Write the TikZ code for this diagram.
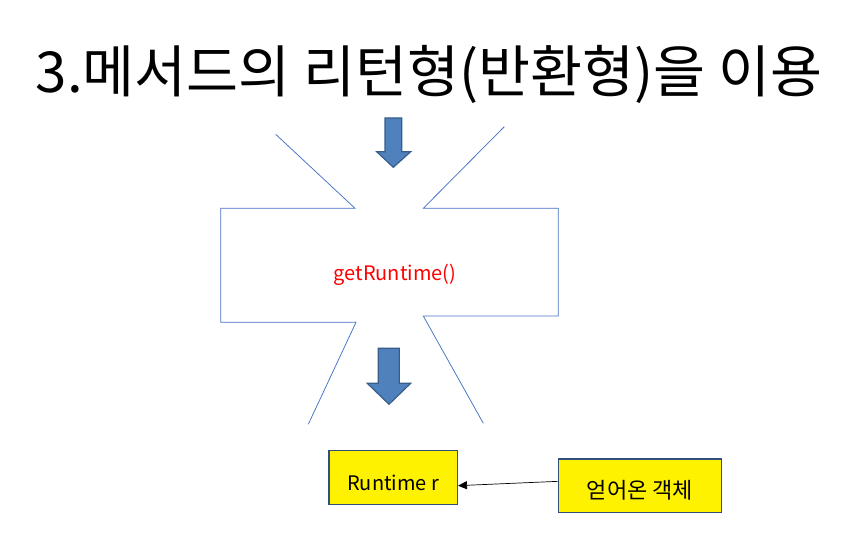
\documentclass[tikz,border=0pt]{standalone}
\usepackage{fontspec}
\setmainfont{Noto Sans CJK KR}
\usetikzlibrary{arrows.meta,calc}
\definecolor{lineblue}{HTML}{4472C4}
\definecolor{arrfill}{HTML}{4F81BD}
\definecolor{arrdraw}{HTML}{385D8A}
\definecolor{boxdraw}{HTML}{2F4F7F}
\tikzset{
  burst/.style={draw=lineblue, line width=0.75pt},
  bigarrow/.style={fill=arrfill, draw=arrdraw, line width=1.2pt, line join=miter},
  yellowbox/.style={draw=boxdraw, fill=yellow, line width=1.3pt, inner sep=0pt, anchor=north west},
}
\begin{document}
\begin{tikzpicture}[x=1pt,y=-1pt]
\useasboundingbox (0,0) rectangle (847,551);
% title
\node[font=\fontsize{56.5}{64}\selectfont, anchor=center] (title) at (429,74) {3.메서드의 리턴형(반환형)을 이용};
% top arrow
\draw[bigarrow] (385,118) -- (401.7,118) -- (401.7,151.7) -- (410.7,151.7) -- (393.3,167.3) -- (376.7,151.7) -- (385,151.7) -- cycle;
% burst shape
\coordinate (tl1) at (275.7,134.3);
\coordinate (tl2) at (355,208.3);
\coordinate (tr1) at (504.3,126.7);
\coordinate (tr2) at (423.3,208.3);
\coordinate (bl1) at (356,322.3);
\coordinate (bl2) at (308.3,424.3);
\coordinate (br1) at (423.3,316);
\coordinate (br2) at (483.3,423.3);
\draw[burst] (tl1) -- (tl2) -- (220.7,208.3) -- (220.7,322.3) -- (bl1) -- (bl2);
\draw[burst] (tr1) -- (tr2) -- (558.3,208.3) -- (558.3,316) -- (br1) -- (br2);
\node[text=red, font=\fontsize{20}{24}\selectfont] (fn) at (395,275) {getRuntime()};
% bottom arrow
\draw[bigarrow] (378.3,348.3) -- (399.3,348.3) -- (399.3,383.3) -- (410.7,383.3) -- (389,404.3) -- (367.3,383.3) -- (378.3,383.3) -- cycle;
% boxes
\node[yellowbox, minimum width=128.4pt, minimum height=54pt, text height=26pt, text depth=0pt, font=\fontsize{20}{24}\selectfont] (rt) at (328.3,450) {Runtime r};
\node[yellowbox, minimum width=163pt, minimum height=53.4pt, text height=27pt, text depth=2pt, font=\fontsize{22}{26}\selectfont] (obj) at (557.7,458.3) {얻어온 객체};
\draw[-{Triangle[length=9pt,width=8pt]}, line width=0.7pt] ($(obj.west)+(0,-4.3)$) -- ($(rt.east)+(0,8)$);
\end{tikzpicture}
\end{document}
